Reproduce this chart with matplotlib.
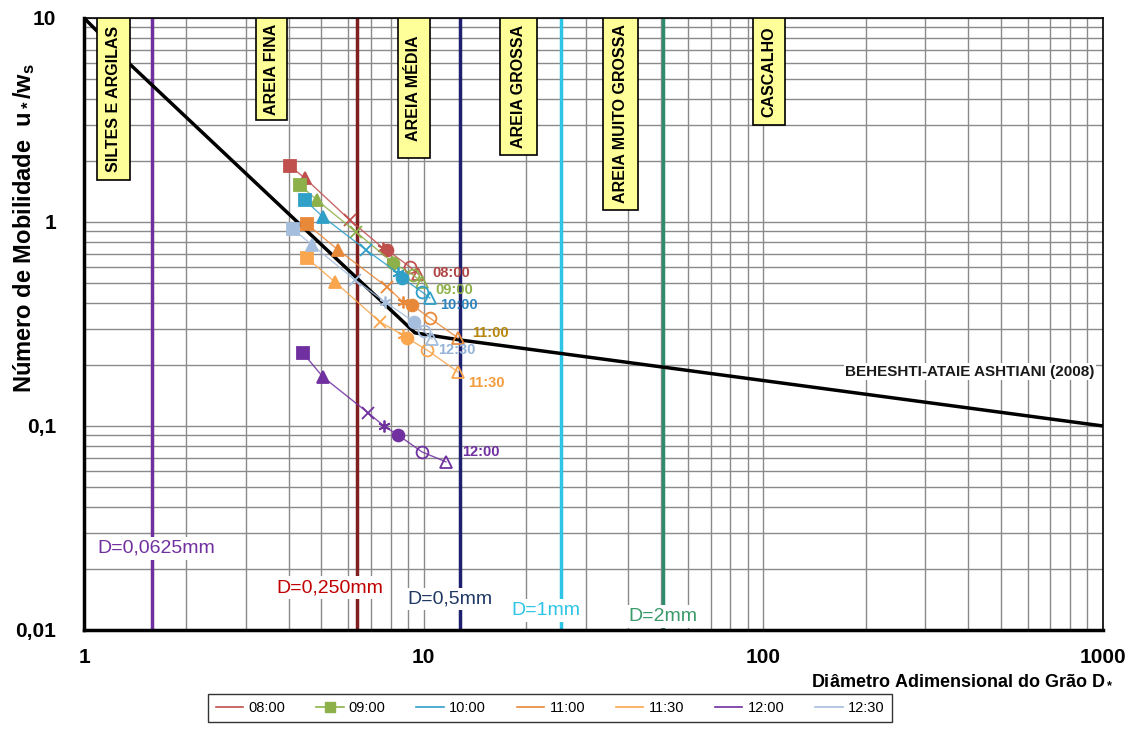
import matplotlib
matplotlib.use("Agg")
import matplotlib.pyplot as plt
import matplotlib.transforms as mtransforms
from matplotlib.lines import Line2D
from matplotlib.patches import Rectangle
from matplotlib.ticker import FixedLocator, LogLocator, NullFormatter

plt.rcParams['font.family'] = ['Liberation Sans', 'DejaVu Sans']
plt.rcParams['mathtext.fontset'] = 'custom'
plt.rcParams['mathtext.rm'] = 'Liberation Sans:bold'
plt.rcParams['mathtext.it'] = 'Liberation Sans:bold'
plt.rcParams['mathtext.bf'] = 'Liberation Sans:bold'

# --- data ---
times = ['08:00', '09:00', '10:00', '11:00', '11:30', '12:00', '12:30']

d_0800 = [4.04, 4.47, 6.07, 7.59, 7.80, 9.11, 9.62]
m_0800 = [1.88, 1.64, 1.02, 0.745, 0.729, 0.602, 0.556]
d_0900 = [4.32, 4.85, 6.32, 8.07, 8.12, 9.30, 9.89]
m_0900 = [1.52, 1.28, 0.893, 0.637, 0.630, 0.550, 0.508]
d_1000 = [4.47, 5.05, 6.77, 8.40, 8.63, 9.89, 10.43]
m_1000 = [1.28, 1.06, 0.729, 0.562, 0.532, 0.454, 0.424]
d_1100 = [4.53, 5.60, 7.80, 8.69, 9.24, 10.43, 12.62]
m_1100 = [0.978, 0.729, 0.480, 0.406, 0.392, 0.338, 0.270]
d_1130 = [4.53, 5.48, 7.43, 8.69, 8.93, 10.22, 12.62]
m_1130 = [0.666, 0.508, 0.324, 0.279, 0.270, 0.236, 0.184]
d_1200 = [4.41, 5.05, 6.86, 7.64, 8.40, 9.89, 11.63]
m_1200 = [0.228, 0.174, 0.116, 0.100, 0.0903, 0.0746, 0.0667]
d_1230 = [4.12, 4.69, 6.28, 7.69, 9.36, 10.0, 10.58]
m_1230 = [0.924, 0.772, 0.520, 0.406, 0.324, 0.292, 0.267]

# Beheshti & Ataie-Ashtiani (2008) threshold curve
curve_d = [1, 1.37, 9.43, 12.8, 1000]
curve_m = [10, 5.9, 0.286, 0.264, 0.1]

# grain size limits (mm) and their dimensionless diameter
limit_labels = ['D=0,0625mm', 'D=0,250mm', 'D=0,5mm', 'D=1mm', 'D=2mm']
limit_dstar = [1.586, 6.36, 12.79, 25.4, 50.6]

zones = ['SILTES E ARGILAS', 'AREIA FINA', 'AREIA MÉDIA', 'AREIA GROSSA',
         'AREIA MUITO GROSSA', 'CASCALHO']

series_d = [d_0800, d_0900, d_1000, d_1100, d_1130, d_1200, d_1230]
series_m = [m_0800, m_0900, m_1000, m_1100, m_1130, m_1200, m_1230]

# --- styles ---
colors = ['#C0504D', '#8DB04A', '#31A0C8', '#E8893A', '#F9A64E', '#7030A0', '#A5BEDD']
text_colors = ['#B04545', '#8DB04A', '#2E86C1', '#B8860B', '#F39C3C', '#7030A0', '#95B3D7']
label_pos = [(10.58, 0.562), (10.80, 0.464), (11.17, 0.392), (13.87, 0.286),
             (13.50, 0.163), (12.96, 0.0746), (11.02, 0.236)]
point_markers = ['s', '^', 'x', (6, 2, 0), 'o', 'o', '^']
point_filled = [True, True, True, True, True, False, False]

limit_colors = ['#7030A0', '#7F1F1F', '#1F1F6F', '#2EC4E6', '#2E8B6E']
limit_text_colors = ['#7030A0', '#C00000', '#1F3864', '#2EC4E6', '#3A9A6A']
limit_label_xy = [(1.63, 0.0252), (5.30, 0.0161), (11.95, 0.0142), (22.9, 0.0125), (50.6, 0.0116)]

zone_x = [(1.092, 1.366), (3.21, 3.96), (8.40, 10.43), (16.77, 21.56), (33.7, 42.7), (93.2, 115.8)]
zone_bottom = [0.735, 0.833, 0.771, 0.776, 0.686, 0.825]

fig = plt.figure(figsize=(11.37, 7.49), dpi=100)
ax = fig.add_axes([0.0739, 0.1589, 0.8962, 0.8171])
ax.set_xscale('log')
ax.set_yscale('log')
ax.set_xlim(1, 1000)
ax.set_ylim(0.01, 10)

ax.xaxis.set_major_locator(FixedLocator([1, 10, 100, 1000]))
ax.yaxis.set_major_locator(FixedLocator([0.01, 0.1, 1, 10]))
ax.xaxis.set_minor_locator(LogLocator(subs=range(2, 10)))
ax.yaxis.set_minor_locator(LogLocator(subs=range(2, 10)))
ax.xaxis.set_minor_formatter(NullFormatter())
ax.yaxis.set_minor_formatter(NullFormatter())
ax.set_xticklabels(['1', '10', '100', '1000'])
ax.set_yticklabels(['0,01', '0,1', '1', '10'])
ax.tick_params(which='both', length=0)
ax.tick_params(axis='x', pad=13, labelsize=15)
ax.tick_params(axis='y', pad=20, labelsize=15)
for lab in ax.get_xticklabels() + ax.get_yticklabels():
    lab.set_fontweight('bold')

ax.set_axisbelow(True)
ax.grid(which='both', color='#8a8a8a', lw=1.0)
for s in ax.spines.values():
    s.set_color('black')
    s.set_linewidth(1.2)
ax.spines['left'].set_linewidth(2.5)
ax.spines['bottom'].set_linewidth(2.5)

# vertical grain size limits
for d, c, lab, (tx, ty), tc in zip(limit_dstar, limit_colors, limit_labels,
                                    limit_label_xy, limit_text_colors):
    ax.axvline(d, color=c, lw=2.5, zorder=2)
    ax.text(tx, ty, lab, color=tc, fontsize=14, ha='center', va='center', zorder=6,
            bbox=dict(boxstyle='square,pad=0.15', fc='white', ec='none'))

# zone boxes
trans = mtransforms.blended_transform_factory(ax.transData, ax.transAxes)
for name, (x0, x1), yb in zip(zones, zone_x, zone_bottom):
    ax.add_patch(Rectangle((x0, yb), x1 - x0, 1 - yb, transform=trans,
                           fc='#FFFF99', ec='black', lw=1.2, zorder=7))
    xc = (x0 * x1) ** 0.5
    ax.text(xc, (1 + yb) / 2, name, transform=trans, rotation=90, ha='center',
            va='center', fontsize=11.5, fontweight='bold', zorder=8)

# threshold curve
ax.plot(curve_d, curve_m, color='black', lw=2.5, zorder=4)
ax.text(946, 0.1845, 'BEHESHTI-ATAIE ASHTIANI (2008)', ha='right', va='center',
        fontsize=11, fontweight='bold', color='#1a1a1a', zorder=6,
        bbox=dict(boxstyle='square,pad=0.1', fc='white', ec='none'))

# measured series
for d, m, c, tc, name, (lx, ly) in zip(series_d, series_m, colors, text_colors,
                                       times, label_pos):
    ax.plot(d, m, color=c, lw=1.0, alpha=0.85, zorder=5)
    for xi, yi, mk, filled in zip(d, m, point_markers, point_filled):
        ax.plot([xi], [yi], marker=mk, ms=8.5, mew=1.3, color=c,
                mfc=c if filled else 'none', mec=c, ls='none', zorder=5)
    ax.text(lx, ly, name, color=tc, fontsize=10.5, fontweight='bold',
            ha='left', va='center', zorder=6)

# axis titles
fig.text(1113 / 1137, 1 - 680 / 749, 'Diâmetro Adimensional do Grão D$_*$',
         ha='right', va='center', fontsize=13, fontweight='bold')
fig.text(24 / 1137, 1 - 228 / 749, 'Número de Mobilidade  u$_*$/w$_s$',
         rotation=90, ha='center', va='center', fontsize=17, fontweight='bold')

# legend
handles = []
for i, c in enumerate(colors):
    if i == 1:
        handles.append(Line2D([], [], color=c, lw=1.2, marker='s', ms=7))
    else:
        handles.append(Line2D([], [], color=c, lw=1.2))
leg = fig.legend(handles, times, loc='center', bbox_to_anchor=(550 / 1137, 1 - 708 / 749),
                 ncol=7, frameon=True, fancybox=False, edgecolor='black', fontsize=10.5,
                 handlelength=1.9, handletextpad=0.35, columnspacing=2.1, borderpad=0.5)
leg.get_frame().set_linewidth(1.0)

fig.savefig('out.png', dpi=100)
